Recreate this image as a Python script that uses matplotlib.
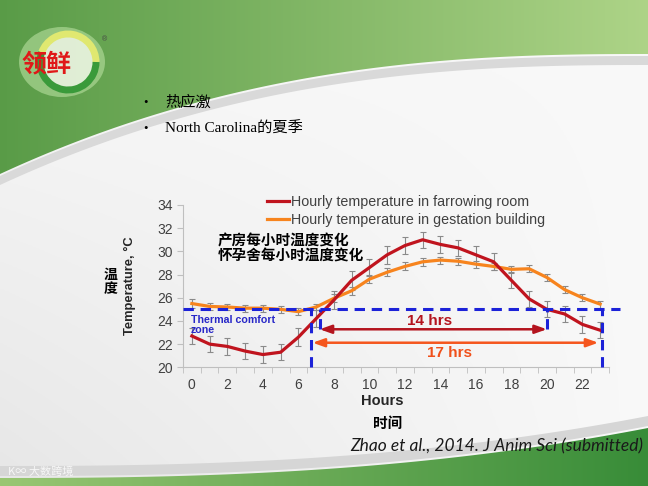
import numpy as np
import matplotlib.pyplot as plt
from matplotlib.patches import Polygon, Ellipse, Arc
from matplotlib.lines import Line2D

plt.rcParams['font.family'] = ['Liberation Sans', 'Noto Sans CJK SC', 'DejaVu Sans']

# data
hours = list(range(24))
farrowing = [22.7, 22.0, 21.8, 21.4, 21.1, 21.3, 22.6, 24.2, 25.8, 27.5, 28.6, 29.7,
             30.5, 31.0, 30.6, 30.3, 29.7, 29.1, 27.5, 25.9, 25.0, 24.6, 23.7, 23.2]
farrowing_err = [0.65, 0.7, 0.7, 0.7, 0.7, 0.7, 0.75, 0.75, 0.8, 0.8, 0.75, 0.75,
                 0.75, 0.7, 0.7, 0.7, 0.75, 0.75, 0.7, 0.7, 0.7, 0.7, 0.7, 0.7]
gestation = [25.5, 25.25, 25.2, 25.1, 25.1, 25.0, 24.8, 25.2, 25.95, 26.6, 27.6, 28.2,
             28.7, 29.1, 29.25, 29.15, 28.9, 28.7, 28.45, 28.5, 27.75, 26.7, 26.0, 25.45]
gestation_err = [0.35, 0.3, 0.3, 0.3, 0.3, 0.3, 0.3, 0.3, 0.35, 0.35, 0.35, 0.35,
                 0.35, 0.35, 0.3, 0.3, 0.3, 0.3, 0.3, 0.3, 0.3, 0.3, 0.3, 0.3]
y_ticks = [20, 22, 24, 26, 28, 30, 32, 34]
x_labels = [0, 2, 4, 6, 8, 10, 12, 14, 16, 18, 20, 22]
legend_labels = ['Hourly temperature in farrowing room',
                 'Hourly temperature in gestation building']
comfort_temp = 25
farrow_cross = (7.2, 20.0)    # farrowing room above 25 C
gest_cross = (6.7, 23.1)      # gestation building above 25 C

W, H = 648, 486
RED = '#c0141e'
ORANGE = '#f7841e'
BLUE = '#1c22d8'

fig = plt.figure(figsize=(W / 100, H / 100), dpi=100)

# ---- slide background ----
bg = fig.add_axes([0, 0, 1, 1], zorder=-5)
bg.set_xlim(0, W)
bg.set_ylim(H, 0)
bg.axis('off')

gx, gy = np.meshgrid(np.linspace(0, 1, 200), np.linspace(0, 1, 200))
base = 0.975 - 0.07 * (gy * (1 - gx))
bg.imshow(np.dstack([base, base, base]), extent=(0, W, H, 0), aspect='auto')

xs = np.linspace(0, W, 120)
top_edge = 54 + 120 * (1 - xs / W) ** 2.5
bot_edge = 478 - 50 * (xs / W) ** 2.5

# top green band
g = np.linspace(0, 1, 256)
c1 = np.array([0.35, 0.61, 0.28])
c2 = np.array([0.68, 0.83, 0.53])
grad = (c1[None, :] * (1 - g[:, None]) + c2[None, :] * g[:, None])[None, :, :]
top_poly = Polygon(np.vstack([[[0, 0], [W, 0]], np.c_[xs[::-1], top_edge[::-1]]]),
                   closed=True, facecolor='none', edgecolor='none')
bg.add_patch(top_poly)
im = bg.imshow(grad, extent=(0, W, H, 0), aspect='auto')
im.set_clip_path(top_poly)
band = np.vstack([np.c_[xs, top_edge + 2], np.c_[xs[::-1], top_edge[::-1] + 11]])
bg.add_patch(Polygon(band, closed=True, facecolor='#d9d9d9', edgecolor='none'))

# bottom green band
c3 = np.array([0.60, 0.78, 0.45])
c4 = np.array([0.22, 0.55, 0.22])
grad2 = (c3[None, :] * (1 - g[:, None]) + c4[None, :] * g[:, None])[None, :, :]
bot_poly = Polygon(np.vstack([np.c_[xs, bot_edge], [[W, H], [0, H]]]),
                   closed=True, facecolor='none', edgecolor='none')
bg.add_patch(bot_poly)
im2 = bg.imshow(grad2, extent=(0, W, H, 0), aspect='auto')
im2.set_clip_path(bot_poly)
band2 = np.vstack([np.c_[xs, bot_edge - 12], np.c_[xs[::-1], bot_edge[::-1] - 2]])
bg.add_patch(Polygon(band2, closed=True, facecolor='#d6d6d6', edgecolor='none'))

# logo
bg.add_patch(Ellipse((62, 62), 86, 70, facecolor='#b8e0a0', edgecolor='none', alpha=0.6))
bg.add_patch(Ellipse((68, 62), 56, 56, facecolor='#f4f8ec', edgecolor='none', alpha=0.8))
bg.add_patch(Arc((68, 62), 56, 56, theta1=200, theta2=360, color='#e0e870', lw=5))
bg.add_patch(Arc((68, 62), 56, 56, theta1=0, theta2=200, color='#3a9a3a', lw=5))
bg.text(47, 64, '领鲜', color='#e01818', fontsize=18, fontweight='bold',
        ha='center', va='center', family=['Noto Sans CJK SC'])
bg.text(104, 40, '®', color='#444444', fontsize=5, ha='center', va='center')
bg.text(8, 472, 'K∞ 大数跨境', color='white', alpha=0.8, fontsize=8, va='center',
        family=['Noto Sans CJK SC', 'DejaVu Sans'])

# bullets
ser = ['Liberation Serif', 'Noto Sans CJK SC']
fig.text(143 / W, 1 - 103 / H, '•', fontsize=9, va='center', family=ser)
fig.text(165 / W, 1 - 103 / H, '热应激', fontsize=11, va='center', family=ser)
fig.text(143 / W, 1 - 129 / H, '•', fontsize=9, va='center', family=ser)
fig.text(165 / W, 1 - 129 / H, 'North Carolina的夏季', fontsize=11, va='center', family=ser)

# ---- chart ----
ax = fig.add_axes([183 / W, 1 - 367.3 / H, 426 / W, 162.3 / H])
ax.patch.set_alpha(0)

ax.errorbar(hours, farrowing, yerr=farrowing_err, fmt='none', ecolor='#8a8a8a',
            elinewidth=0.8, capsize=2, capthick=0.8, zorder=2)
ax.errorbar(hours, gestation, yerr=gestation_err, fmt='none', ecolor='#8a8a8a',
            elinewidth=0.8, capsize=2, capthick=0.8, zorder=2)
ax.plot(hours, gestation, color=ORANGE, lw=2.3, zorder=3)
ax.plot(hours, farrowing, color=RED, lw=2.3, zorder=4)

ax.set_xlim(-0.5, 23.5)
ax.set_ylim(20, 34)
ax.set_yticks(y_ticks)
ax.set_xticks(x_labels)
ax.set_xticks(np.arange(-0.5, 24, 1), minor=True)
ax.tick_params(axis='x', which='major', length=0, pad=8, labelsize=10, labelcolor='#404040')
ax.tick_params(axis='x', which='minor', length=4, color='#bfbfbf', direction='out')
ax.tick_params(axis='y', length=4, color='#bfbfbf', labelsize=10, labelcolor='#404040')
for s in ['top', 'right']:
    ax.spines[s].set_visible(False)
for s in ['left', 'bottom']:
    ax.spines[s].set_color('#bfbfbf')

# comfort zone
dash = dict(color=BLUE, lw=2.2, ls=(0, (3.4, 2.2)), zorder=5)
ax.plot([-0.5, 24.1], [comfort_temp, comfort_temp], clip_on=False, **dash)
ax.plot([gest_cross[0]] * 2, [20, comfort_temp], clip_on=False, **dash)
ax.plot([gest_cross[1]] * 2, [20, comfort_temp], clip_on=False, **dash)
ax.plot([farrow_cross[0]] * 2, [23.3, comfort_temp], **dash)
ax.plot([farrow_cross[1]] * 2, [23.3, comfort_temp], **dash)
ax.text(-0.05, 24.55, 'Thermal comfort\nzone', color='#2828c8', fontsize=7.7,
        fontweight='bold', va='top', ha='left', linespacing=1.1)

ax.annotate('', xy=(farrow_cross[1], 23.28), xytext=(farrow_cross[0], 23.28),
            arrowprops=dict(arrowstyle='<|-|>,head_length=0.7,head_width=0.25',
                            color='#b4141e', lw=1.8, shrinkA=0, shrinkB=0), zorder=6)
ax.text(13.4, 23.97, '14 hrs', color='#b4141e', fontsize=11, fontweight='bold',
        ha='center', va='center')
ax.annotate('', xy=(gest_cross[1] - 0.2, 22.12), xytext=(gest_cross[0] + 0.1, 22.12),
            arrowprops=dict(arrowstyle='<|-|>,head_length=0.7,head_width=0.25',
                            color='#f5561e', lw=1.8, shrinkA=0, shrinkB=0), zorder=6)
ax.text(14.5, 21.2, '17 hrs', color='#f0501a', fontsize=11, fontweight='bold',
        ha='center', va='center')

handles = [Line2D([], [], color=RED, lw=2.3), Line2D([], [], color=ORANGE, lw=2.3)]
fig.legend(handles, legend_labels, loc='upper left', bbox_to_anchor=(267 / W, 1 - 195 / H),
           frameon=False, fontsize=10.3, handlelength=1.55, handletextpad=0.1,
           labelspacing=0.3, labelcolor='#404040', borderaxespad=0, borderpad=0)

cjk = ['Noto Sans CJK SC']
fig.text(218 / W, 1 - 240 / H, '产房每小时温度变化', fontsize=10.5, fontweight='bold',
         va='center', family=cjk)
fig.text(218 / W, 1 - 256 / H, '怀孕舍每小时温度变化', fontsize=10.5, fontweight='bold',
         va='center', family=cjk)

fig.text(130 / W, 1 - 286 / H, 'Temperature, °C', rotation=90, fontsize=9.3,
         fontweight='bold', ha='center', va='center', color='#262626')
fig.text(111 / W, 1 - 282 / H, '温\n度', fontsize=10, fontweight='bold', ha='center',
         va='center', family=cjk, linespacing=1.05)
fig.text(382 / W, 1 - 401 / H, 'Hours', fontsize=10.5, fontweight='bold', ha='center',
         va='center', color='#262626')
fig.text(388 / W, 1 - 423 / H, '时间', fontsize=10.5, fontweight='bold', ha='center',
         va='center', family=cjk)
fig.text(643 / W, 1 - 446 / H, 'Zhao et al., 2014. J Anim Sci (submitted)', fontsize=12.5,
         style='italic', ha='right', va='center', family=['Lato'], color='#1a1a1a')

fig.savefig('out.png', dpi=100)
